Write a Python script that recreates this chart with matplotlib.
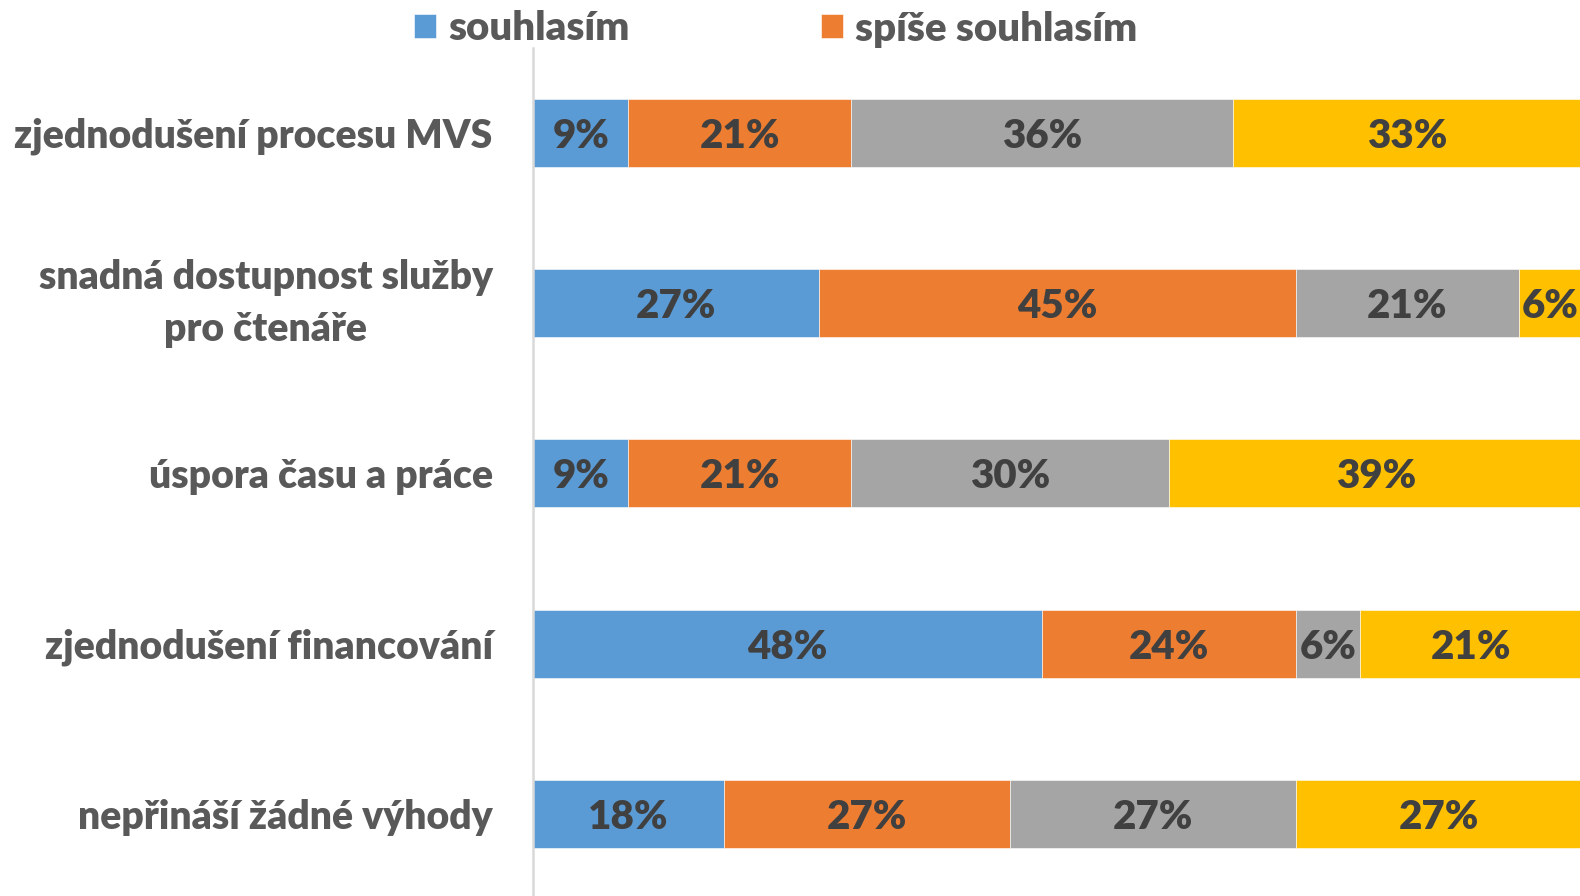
import matplotlib
matplotlib.use("Agg")
import matplotlib.pyplot as plt
import numpy as np

plt.rcParams['font.family'] = ['Lato', 'DejaVu Sans']

categories = [
    "zjednodušení procesu MVS",
    "snadná dostupnost služby\npro čtenáře",
    "úspora času a práce",
    "zjednodušení financování",
    "nepřináší žádné výhody",
]
series_names = ["souhlasím", "spíše souhlasím", "spíše nesouhlasím", "nesouhlasím"]
souhlasim = [9, 27, 9, 48, 18]
spise_souhlasim = [21, 45, 21, 24, 27]
spise_nesouhlasim = [36, 21, 30, 6, 27]
nesouhlasim = [33, 6, 39, 21, 27]
colors = ["#5B9BD5", "#ED7D31", "#A5A5A5", "#FFC000"]

W, H = 1580, 896
fig = plt.figure(figsize=(W / 100, H / 100), dpi=100)
ax = fig.add_axes([533 / W, -3.2 / H, 1060 / W, 851.6 / H])

y = np.arange(len(categories))
left = np.zeros(len(categories))
bars = []
for vals, name, col in zip([souhlasim, spise_souhlasim, spise_nesouhlasim, nesouhlasim],
                           series_names, colors):
    vals = np.array(vals, dtype=float)
    b = ax.barh(y, vals, left=left, height=0.4, color=col, label=name,
                edgecolor="white", linewidth=0.4)
    bars.append(b)
    for yi, l, v in zip(y, left, vals):
        ax.text(l + v / 2, yi + 0.02, f"{v:.0f}%", ha="center", va="center",
                fontsize=29, fontweight="heavy", color="#404040")
    left += vals

ax.set_xlim(0, 100)
ax.set_ylim(len(categories) - 0.5, -0.5)
ax.set_yticks(y)
ax.set_yticklabels(categories, fontsize=28.2, fontweight="heavy", color="#595959",
                   ha="right", multialignment="center", linespacing=1.5)
for lbl in ax.get_yticklabels():
    if "\n" in lbl.get_text():
        lbl.set_va("center")
ax.tick_params(axis="y", length=0, pad=29)
ax.set_xticks([])
for s in ["top", "right", "bottom"]:
    ax.spines[s].set_visible(False)
ax.spines["left"].set_color("#D9D9D9")
ax.spines["left"].set_linewidth(1.8)

fig.legend(handles=[bars[0], bars[1]], labels=series_names[:2], loc="center left",
           bbox_to_anchor=(414 / W, 1 - 29 / H), ncol=2, frameon=False,
           prop={"size": 29, "weight": "heavy"}, labelcolor="#595959",
           handlelength=0.55, handleheight=0.55, handletextpad=0.3,
           columnspacing=4.75, borderaxespad=0, borderpad=0)

fig.savefig("out.png", dpi=100)
